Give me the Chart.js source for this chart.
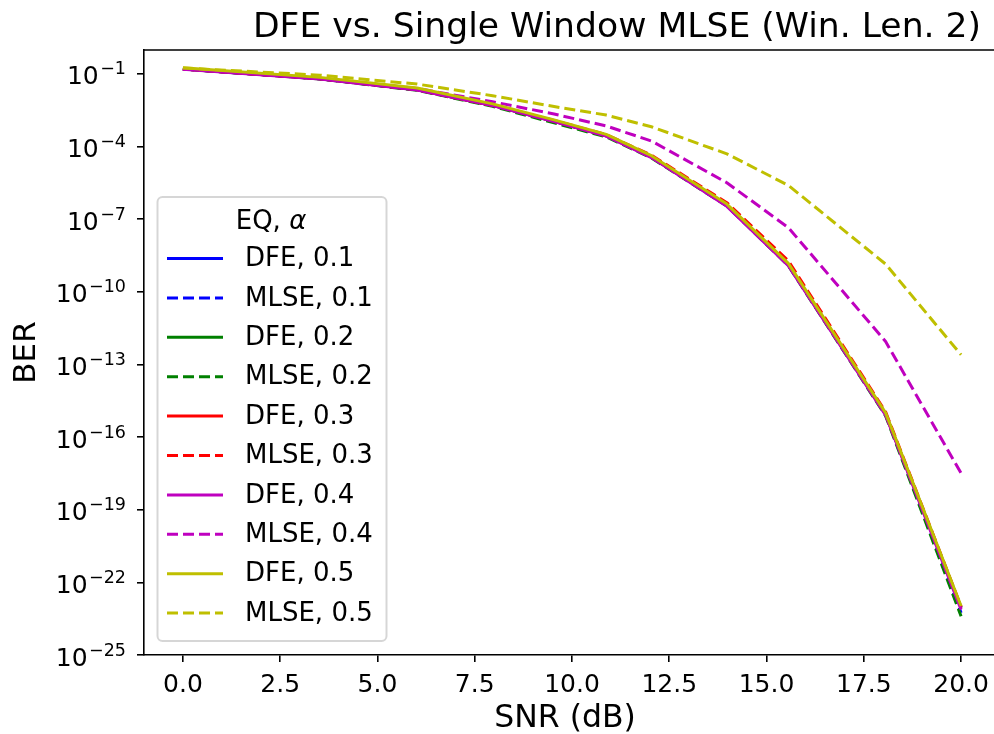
<!DOCTYPE html>
<html>
<head>
<meta charset="utf-8">
<script src="https://cdn.jsdelivr.net/npm/chart.js@4.4.0/dist/chart.umd.min.js"></script>
<style>
html,body{margin:0;padding:0;background:#fff;overflow:hidden;width:994px;height:734px;}
canvas{display:block;}
</style>
</head>
<body>
<canvas id="c" width="1001" height="734"></canvas>
<script>
// ---- data ----
const snrDb = [0, 3.52, 6.02, 7.96, 9.54, 10.88, 12.04, 13.98, 15.56, 18.06, 20];
const xTickValues = [0, 2.5, 5, 7.5, 10, 12.5, 15, 17.5, 20];
const yTickExponents = [-1, -4, -7, -10, -13, -16, -19, -22, -25];

const dfe01  = [1.6e-1, 6.3e-2, 2.2e-2, 5.0e-3, 1.1e-3, 2.8e-4, 3.7e-5, 3.7e-7, 1.3e-9, 8.9e-16, 8.9e-24];
const mlse01 = [1.6e-1, 6.3e-2, 2.2e-2, 4.9e-3, 1.05e-3, 2.7e-4, 3.6e-5, 3.6e-7, 1.3e-9, 8.5e-16, 5.5e-24];
const dfe02  = [1.6e-1, 6.3e-2, 2.2e-2, 5.0e-3, 1.1e-3, 2.8e-4, 3.7e-5, 3.7e-7, 1.3e-9, 8.9e-16, 9.1e-24];
const mlse02 = [1.6e-1, 6.2e-2, 2.1e-2, 4.6e-3, 9.5e-4, 2.5e-4, 3.4e-5, 3.5e-7, 1.2e-9, 7.5e-16, 4.0e-24];
const dfe03  = [1.6e-1, 6.3e-2, 2.2e-2, 5.0e-3, 1.1e-3, 2.8e-4, 3.7e-5, 3.8e-7, 1.35e-9, 9.0e-16, 9.0e-24];
const mlse03 = [1.6e-1, 6.4e-2, 2.3e-2, 5.2e-3, 1.2e-3, 3.1e-4, 4.4e-5, 4.8e-7, 1.9e-9, 1.1e-15, 1.0e-23];
const dfe04  = [1.55e-1, 6.2e-2, 2.15e-2, 4.9e-3, 1.08e-3, 2.7e-4, 3.5e-5, 3.4e-7, 1.2e-9, 8.0e-16, 7.5e-24];
const mlse04 = [1.6e-1, 6.6e-2, 2.5e-2, 7.1e-3, 2.2e-3, 7.1e-4, 1.7e-4, 3.2e-6, 4.5e-8, 8.9e-13, 3.2e-18];
const dfe05  = [1.8e-1, 7.2e-2, 2.6e-2, 5.8e-3, 1.26e-3, 3.2e-4, 4.2e-5, 4.2e-7, 1.5e-9, 1.0e-15, 1.05e-23];
const mlse05 = [1.75e-1, 8.9e-2, 3.8e-2, 1.26e-2, 4.5e-3, 2.0e-3, 6.6e-4, 5.0e-5, 2.5e-6, 1.4e-9, 2.5e-13];

const seriesLabels = ['DFE, 0.1','MLSE, 0.1','DFE, 0.2','MLSE, 0.2','DFE, 0.3','MLSE, 0.3','DFE, 0.4','MLSE, 0.4','DFE, 0.5','MLSE, 0.5'];
const seriesValues = [dfe01, mlse01, dfe02, mlse02, dfe03, mlse03, dfe04, mlse04, dfe05, mlse05];
const seriesColors = ['#0000ff','#0000ff','#008000','#008000','#ff0000','#ff0000','#bf00bf','#bf00bf','#bfbf00','#bfbf00'];
const seriesDashed = [false,true,false,true,false,true,false,true,false,true];

const titleText = 'DFE vs. Single Window MLSE (Win. Len. 2)';
const xLabelText = 'SNR (dB)';
const yLabelText = 'BER';

const FONT = '"DejaVu Sans", "Noto Sans", sans-serif';
const DASH = [11, 5];
const LW = 3;

const datasets = seriesLabels.map((lab, i) => ({
  label: lab,
  data: snrDb.map((x, j) => ({x: x, y: seriesValues[i][j]})),
  borderColor: seriesColors[i],
  backgroundColor: seriesColors[i],
  borderWidth: LW,
  borderDash: seriesDashed[i] ? DASH : [],
  borderCapStyle: 'butt',
  borderJoinStyle: 'round',
  pointRadius: 0,
  tension: 0,
  fill: false,
  order: seriesLabels.length - 1 - i
}));

const decor = {
  id: 'decor',
  afterDraw(chart) {
    const ctx = chart.ctx, a = chart.chartArea, ys = chart.scales.y;
    ctx.save();
    // top and right spines
    ctx.strokeStyle = '#000';
    ctx.lineWidth = 1.6;
    ctx.setLineDash([]);
    ctx.beginPath();
    ctx.moveTo(a.left - 0.8, a.top);
    ctx.lineTo(a.right, a.top);
    ctx.lineTo(a.right, a.bottom);
    ctx.stroke();

    // y tick labels 10^n
    ctx.fillStyle = '#000';
    ctx.textBaseline = 'alphabetic';
    ctx.textAlign = 'right';
    yTickExponents.forEach(e => {
      const y = ys.getPixelForValue(Math.pow(10, e));
      const sup = '\u2212' + Math.abs(e);
      ctx.font = '17.5px ' + FONT;
      const sw = ctx.measureText(sup).width;
      ctx.fillText(sup, 126, y + 0.5);
      ctx.font = '25px ' + FONT;
      ctx.fillText('10', 126 - sw - 1.5, y + 10.5);
    });

    // title
    ctx.textAlign = 'center';
    ctx.font = '34.6px ' + FONT;
    ctx.fillText(titleText, 617, 37);
    // x label
    ctx.font = '31.5px ' + FONT;
    ctx.fillText(xLabelText, 565, 727);
    // y label
    ctx.save();
    ctx.translate(35, (a.top + a.bottom) / 2);
    ctx.rotate(-Math.PI / 2);
    ctx.font = '31px ' + FONT;
    ctx.fillText(yLabelText, 0, 0);
    ctx.restore();

    // legend
    const bx = 157.5, by = 197, bw = 229, bh = 444;
    ctx.beginPath();
    ctx.roundRect(bx, by, bw, bh, 5);
    ctx.fillStyle = 'rgba(255,255,255,0.8)';
    ctx.fill();
    ctx.strokeStyle = 'rgba(204,204,204,0.8)';
    ctx.lineWidth = 2;
    ctx.stroke();

    // legend title "EQ, α"
    ctx.fillStyle = '#000';
    ctx.textAlign = 'left';
    ctx.font = '26px ' + FONT;
    const t1 = 'EQ, ';
    const w1 = ctx.measureText(t1).width;
    ctx.font = 'italic 26px ' + FONT;
    const w2 = ctx.measureText('\u03b1').width;
    const tx = 271 - (w1 + w2) / 2;
    ctx.font = '26px ' + FONT;
    ctx.fillText(t1, tx, 229);
    ctx.font = 'italic 26px ' + FONT;
    ctx.fillText('\u03b1', tx + w1, 229);

    chart.data.datasets.forEach((ds, i) => {
      const y = 258.5 + 39.4 * i;
      ctx.strokeStyle = ds.borderColor;
      ctx.lineWidth = LW;
      ctx.lineCap = 'butt';
      ctx.setLineDash(ds.borderDash);
      ctx.beginPath();
      ctx.moveTo(167, y);
      ctx.lineTo(223, y);
      ctx.stroke();
      ctx.setLineDash([]);
      ctx.fillStyle = '#000';
      ctx.font = '26px ' + FONT;
      ctx.textBaseline = 'middle';
      ctx.fillText(ds.label, 245, y + 1);
      ctx.textBaseline = 'alphabetic';
    });
    ctx.restore();
  }
};

new Chart(document.getElementById('c'), {
  type: 'line',
  data: { datasets: datasets },
  options: {
    responsive: false,
    animation: false,
    devicePixelRatio: 1,
    layout: { padding: { left: 0, top: 50, right: 1, bottom: 0 } },
    plugins: { legend: { display: false }, title: { display: false }, tooltip: { enabled: false } },
    scales: {
      x: {
        type: 'linear',
        min: -1, max: 21,
        afterFit: s => { s.height = 79; },
        afterBuildTicks: s => { s.ticks = xTickValues.map(v => ({ value: v })); },
        ticks: {
          autoSkip: false, maxRotation: 0, color: '#000', padding: 8,
          font: { family: FONT, size: 25 },
          callback: v => Number(v).toFixed(1)
        },
        grid: { drawOnChartArea: false, drawTicks: true, tickLength: 7, color: '#000', lineWidth: 1.6 },
        border: { display: true, color: '#000', width: 1.6 }
      },
      y: {
        type: 'logarithmic',
        min: 1e-25, max: Math.pow(10, -0.012),
        afterFit: s => { s.width = 144; },
        afterBuildTicks: s => { s.ticks = yTickExponents.map(e => ({ value: Math.pow(10, e) })); },
        ticks: { display: false },
        grid: { drawOnChartArea: false, drawTicks: true, tickLength: 7, color: '#000', lineWidth: 1.6 },
        border: { display: true, color: '#000', width: 1.6 }
      }
    }
  },
  plugins: [decor]
});
</script>
</body>
</html>
